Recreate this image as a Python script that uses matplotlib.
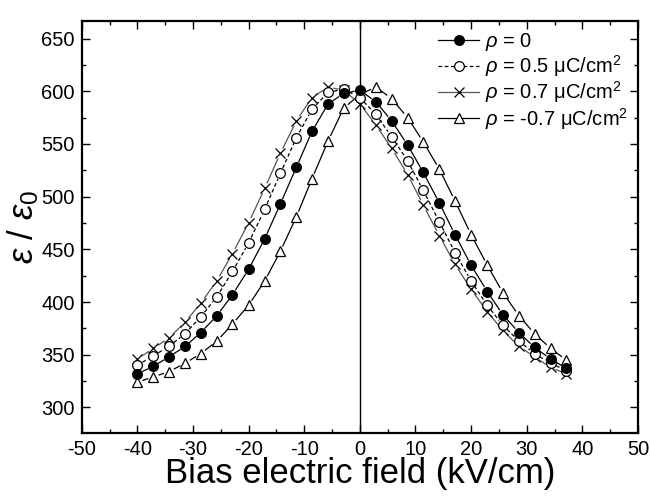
import numpy as np
import matplotlib
matplotlib.use("Agg")
import matplotlib.pyplot as plt
from matplotlib.lines import Line2D

plt.rcParams['font.family'] = ['Liberation Sans', 'DejaVu Sans']
plt.rcParams['mathtext.fontset'] = 'custom'
plt.rcParams['mathtext.rm'] = 'Liberation Sans'
plt.rcParams['mathtext.it'] = 'Liberation Sans:italic'
plt.rcParams['axes.unicode_minus'] = False

# bias field (kV/cm)
field = [-40.0, -37.1, -34.3, -31.4, -28.6, -25.7, -22.9, -20.0, -17.1, -14.3,
         -11.4, -8.6, -5.7, -2.9, 0.0, 2.9, 5.7, 8.6, 11.4, 14.3,
         17.1, 20.0, 22.9, 25.7, 28.6, 31.4, 34.3, 37.1]

eps_rho0 = [332, 339, 348, 358, 371, 387, 407, 431, 460, 493,
            528, 562, 588, 598, 601, 590, 572, 549, 523, 494,
            464, 435, 410, 388, 371, 357, 346, 337]
eps_rho05 = [340, 349, 358, 370, 386, 405, 429, 456, 488, 522,
             556, 583, 599, 602, 594, 578, 557, 534, 506, 476,
             447, 420, 397, 378, 363, 351, 342, 335]
eps_rho07 = [346, 356, 366, 381, 399, 420, 446, 475, 508, 541,
             572, 594, 604, 601, 588, 568, 546, 521, 492, 463,
             436, 412, 391, 373, 358, 348, 338, 332]
eps_rhom07 = [324, 329, 334, 342, 351, 363, 379, 397, 420, 448,
              481, 517, 553, 584, 597, 604, 593, 575, 552, 526,
              496, 464, 435, 409, 387, 370, 356, 345]

labels = [r'$\rho$ = 0',
          r'$\rho$ = 0.5 μC/cm$^2$',
          r'$\rho$ = 0.7 μC/cm$^2$',
          r'$\rho$ = -0.7 μC/cm$^2$']

fig = plt.figure(figsize=(6.5, 4.96), dpi=100)
ax = fig.add_axes([0.1257, 0.1276, 0.9815 - 0.1257, 0.9583 - 0.1276])
ax.set_xlim(-50, 50)
ax.set_ylim(276, 667)


def gapped_line(x, y, gap, **kw):
    # connect points like Origin does: leave a small gap around every symbol
    pts = ax.transData.transform(np.column_stack([x, y]))
    inv = ax.transData.inverted()
    for a, b in zip(pts[:-1], pts[1:]):
        d = b - a
        L = np.hypot(*d)
        if L <= 2 * gap:
            continue
        u = d / L
        seg = inv.transform(np.array([a + u * gap, b - u * gap]))
        ax.plot(seg[:, 0], seg[:, 1], **kw)


styles = [
    dict(data=eps_rhom07, marker='^', mfc='white', mec='k', ms=7.5, ls='-', lc='k'),
    dict(data=eps_rho07, marker='x', mfc='none', mec='k', ms=7, ls='-', lc='#555555'),
    dict(data=eps_rho05, marker='o', mfc='white', mec='k', ms=7, ls=(0, (3, 2)), lc='k'),
    dict(data=eps_rho0, marker='o', mfc='k', mec='k', ms=7, ls='-', lc='k'),
]

ax.axvline(0, color='k', lw=1.0, zorder=1)

for s in styles:
    gapped_line(field, s['data'], 6, color=s['lc'], lw=0.9, ls=s['ls'], zorder=2)
    ax.plot(field, s['data'], ls='none', marker=s['marker'], mfc=s['mfc'],
            mec=s['mec'], ms=s['ms'], mew=0.9, zorder=3)

handles = []
for s in styles[::-1]:
    handles.append(Line2D([], [], color=s['lc'], lw=0.9, ls=s['ls'], marker=s['marker'],
                          mfc=s['mfc'], mec=s['mec'], ms=s['ms'], mew=0.9))
ax.legend(handles, labels, loc='upper right', bbox_to_anchor=(1.0, 1.0), frameon=False,
          fontsize=14.5, handlelength=2.0, handletextpad=0.3, labelspacing=0.02,
          borderaxespad=0.1)

ax.set_xticks(np.arange(-50, 51, 10))
ax.set_xticks(np.arange(-45, 50, 10), minor=True)
ax.set_yticks(np.arange(300, 651, 50))
ax.set_yticks(np.arange(325, 667, 50), minor=True)
ax.tick_params(which='both', direction='in', top=True, right=True, labelsize=14.5)
ax.tick_params(which='major', length=6, width=1.0, pad=5)
ax.tick_params(which='minor', length=3, width=1.0)
for sp in ax.spines.values():
    sp.set_linewidth(1.6)

ax.set_xlabel('Bias electric field (kV/cm)', fontsize=25, labelpad=-1)
ax.set_ylabel(r'$\varepsilon$ / $\varepsilon_0$', fontsize=25, labelpad=0)

fig.savefig('out.png', dpi=100)
